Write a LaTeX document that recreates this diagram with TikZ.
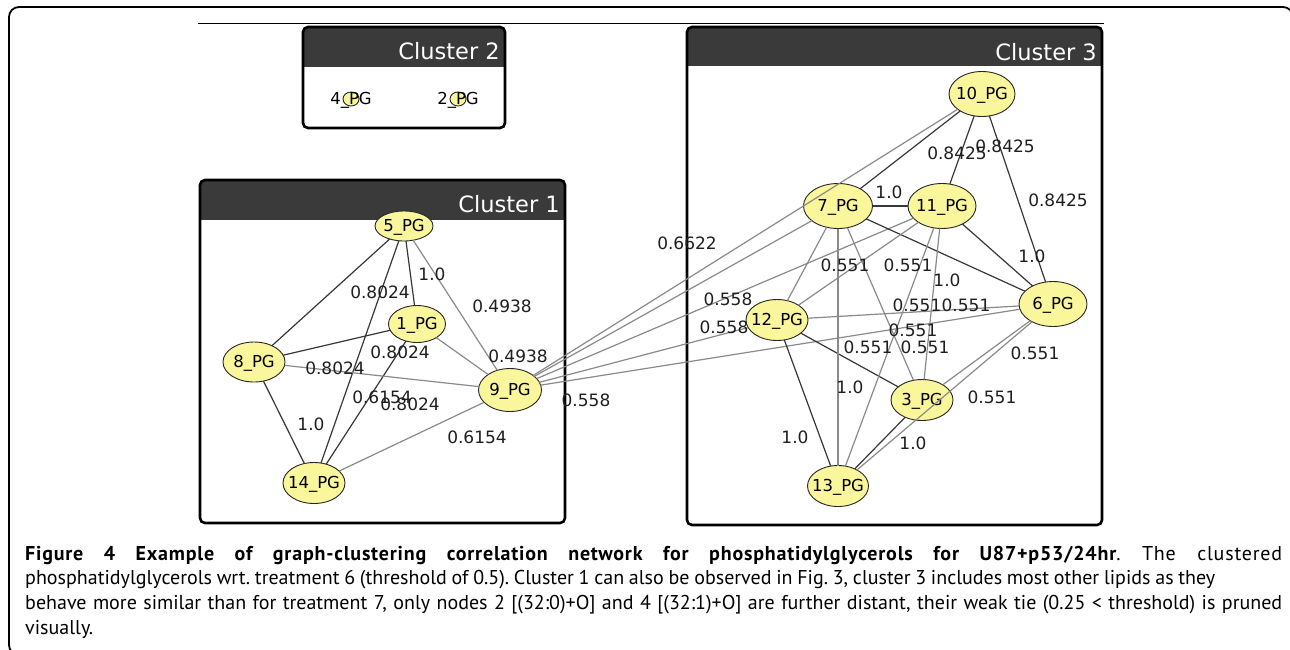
\documentclass[tikz,border=0pt]{standalone}
\usepackage{fontspec}
\setmainfont{PT Sans}
\newfontfamily\dvfont{DejaVu Sans}
\usetikzlibrary{shapes.geometric}
\definecolor{hdr}{RGB}{58,58,58}
\definecolor{pgfill}{RGB}{250,246,155}
\definecolor{edark}{RGB}{55,55,55}
\definecolor{egray}{RGB}{138,138,138}
\newcommand\pglabel[1]{\makebox[0pt]{\raisebox{-0.36em}[0pt][0pt]{#1}}}
\frenchspacing
\begin{document}
\begin{tikzpicture}[x=1pt,y=-1pt,
  pg/.style={ellipse, draw=black!85, line width=0.9pt, fill=pgfill, inner sep=0pt, outer sep=0pt, font=\dvfont\fontsize{16.5}{18}\selectfont},
  lab/.style={font=\dvfont\fontsize{17}{19}\selectfont, inner sep=0pt, text=black!88},
  dk/.style={draw=edark, line width=1.2pt},
  gy/.style={draw=egray, line width=1.2pt},
  boxframe/.style={draw=black, line width=2.6pt, rounded corners=5pt},
  hdrtext/.style={font=\dvfont\fontsize{22.5}{24}\selectfont, text=white, anchor=base east, inner sep=0pt},
  capline/.style={anchor=base west, inner sep=0pt, font=\fontsize{20}{24}\selectfont}
  ]
\useasboundingbox (0,0) rectangle (1290,649);
\fill[white] (0,0) rectangle (1290,649);
% outer frame
\draw[line width=1.8pt, rounded corners=10pt] (9,7) rectangle (1293,655);
\draw[line width=1pt] (198,23.5) -- (1104,23.5);

% cluster boxes
\begin{scope}
\clip[rounded corners=5pt] (303,27) rectangle (505,128);
\fill[hdr] (303,27) rectangle (505,67);
\end{scope}
\draw[boxframe] (303,27) rectangle (505,128);
\node[hdrtext] (h2) at (500,59.5) {Cluster 2};

\begin{scope}
\clip[rounded corners=5pt] (200,180) rectangle (565,523);
\fill[hdr] (200,180) rectangle (565,220);
\end{scope}
\draw[boxframe] (200,180) rectangle (565,523);
\node[hdrtext] (h1) at (560,212) {Cluster 1};

\begin{scope}
\clip[rounded corners=5pt] (687,27) rectangle (1102,525);
\fill[hdr] (687,27) rectangle (1102,66);
\end{scope}
\draw[boxframe] (687,27) rectangle (1102,525);
\node[hdrtext] (h3) at (1097,60) {Cluster 3};

% cluster 2 nodes
\node[pg, minimum width=16pt, minimum height=14pt] (n4) at (351,99) {\pglabel{4\_PG}};
\node[pg, minimum width=16pt, minimum height=14pt] (n2) at (458,99) {\pglabel{2\_PG}};

% cluster 1 nodes
\node[pg, minimum width=58pt, minimum height=30pt] (n5) at (404,226) {\pglabel{5\_PG}};
\node[pg, minimum width=57pt, minimum height=37pt] (n1) at (417,324) {\pglabel{1\_PG}};
\node[pg, minimum width=62pt, minimum height=40pt] (n8) at (254,362) {\pglabel{8\_PG}};
\node[pg, minimum width=63pt, minimum height=43pt] (n9) at (510,390) {\pglabel{9\_PG}};
\node[pg, minimum width=62pt, minimum height=41pt] (n14) at (314,483) {\pglabel{14\_PG}};

% cluster 3 nodes
\node[pg, minimum width=66pt, minimum height=45pt] (n10) at (982,94) {\pglabel{10\_PG}};
\node[pg, minimum width=69pt, minimum height=45pt] (n7) at (838,206) {\pglabel{7\_PG}};
\node[pg, minimum width=68pt, minimum height=45pt] (n11) at (942,206) {\pglabel{11\_PG}};
\node[pg, minimum width=68pt, minimum height=45pt] (n6) at (1053,304) {\pglabel{6\_PG}};
\node[pg, minimum width=62pt, minimum height=41pt] (n12) at (777,320) {\pglabel{12\_PG}};
\node[pg, minimum width=62pt, minimum height=41pt] (n3) at (922,400) {\pglabel{3\_PG}};
\node[pg, minimum width=61pt, minimum height=41pt] (n13) at (838,486) {\pglabel{13\_PG}};

% cluster 1 edges
\draw[dk] (n5) -- (n8);
\draw[dk] (n5) -- (n1);
\draw[dk] (n5) -- (n14);
\draw[dk] (n1) -- (n8);
\draw[dk] (n1) -- (n14);
\draw[dk] (n8) -- (n14);
\draw[gy] (n5) -- (n9);
\draw[gy] (n1) -- (n9);
\draw[gy] (n8) -- (n9);
\draw[gy] (n14) -- (n9);
% cross edges
\draw[gy] (n9) -- (n10);
\draw[gy] (n9) -- (n7);
\draw[gy] (n9) -- (n11);
\draw[gy] (n9) -- (n12);
\draw[gy] (n9) -- (n6);
% cluster 3 edges
\draw[dk] (n10) -- (n7);
\draw[dk] (n10) -- (n11);
\draw[dk] (n10) -- (n6);
\draw[dk] (n7) -- (n11);
\draw[dk] (n7) -- (n6);
\draw[dk] (n11) -- (n6);
\draw[dk] (n12) -- (n3);
\draw[dk] (n12) -- (n13);
\draw[dk] (n3) -- (n13);
\draw[gy] (n7) -- (n12);
\draw[gy] (n7) -- (n13);
\draw[gy] (n7) -- (n3);
\draw[gy] (n11) -- (n12);
\draw[gy] (n11) -- (n13);
\draw[gy] (n11) -- (n3);
\draw[gy] (n12) -- (n6);
\draw[gy] (n6) -- (n3);
\draw[gy] (n6) -- (n13);

% cluster 1 labels
\node[lab] (l1) at (432,274) {1.0};
\node[lab] (l2) at (380,292) {0.8024};
\node[lab] (l3) at (502,306) {0.4938};
\node[lab] (l4) at (400,352) {0.8024};
\node[lab] (l5) at (518,356) {0.4938};
\node[lab] (l6) at (335,368) {0.8024};
\node[lab] (l7) at (382,397) {0.6154};
\node[lab] (l8) at (410,404) {0.8024};
\node[lab] (l9) at (311,424) {1.0};
\node[lab] (l10) at (477,437) {0.6154};
% cross labels
\node[lab] (l11) at (687,243) {0.6622};
\node[lab] (l12) at (728,299) {0.558};
\node[lab] (l13) at (724,327) {0.558};
\node[lab] (l14) at (586,400) {0.558};
% cluster 3 labels
\node[lab] (l15) at (957,153) {0.8425};
\node[lab] (l16) at (1005,146) {0.8425};
\node[lab] (l17) at (1058,200) {0.8425};
\node[lab] (l18) at (889,192) {1.0};
\node[lab] (l19) at (1032,256) {1.0};
\node[lab] (l20) at (845,265) {0.551};
\node[lab] (l21) at (908,265) {0.551};
\node[lab] (l22) at (947,280) {1.0};
\node[lab] (l23) at (917,305) {0.551};
\node[lab] (l24) at (966,305) {0.551};
\node[lab] (l25) at (913,330) {0.551};
\node[lab] (l26) at (868,347) {0.551};
\node[lab] (l27) at (925,347) {0.551};
\node[lab] (l28) at (1035,353) {0.551};
\node[lab] (l29) at (992,397) {0.551};
\node[lab] (l30) at (850,387) {1.0};
\node[lab] (l31) at (795,437) {1.0};
\node[lab] (l32) at (913,443) {1.0};

% caption
\node[capline] (c1) at (25,560) {\addfontfeatures{LetterSpace=4}\makebox[1257pt][s]{\textbf{Figure 4 Example of graph-clustering correlation network for phosphatidylglycerols for U87+p53/24hr}. The clustered}};
\node[capline] (c2) at (25,584) {\makebox[1190pt][s]{phosphatidylglycerols wrt. treatment 6 (threshold of 0.5). Cluster 1 can also be observed in Fig. 3, cluster 3 includes most other lipids as they}};
\node[capline] (c3) at (25,609) {\makebox[1257pt][s]{behave more similar than for treatment 7, only nodes 2 [(32:0)+O] and 4 [(32:1)+O] are further distant, their weak tie (0.25 < threshold) is pruned}};
\node[capline] (c4) at (25,634) {visually.};
\end{tikzpicture}
\end{document}
